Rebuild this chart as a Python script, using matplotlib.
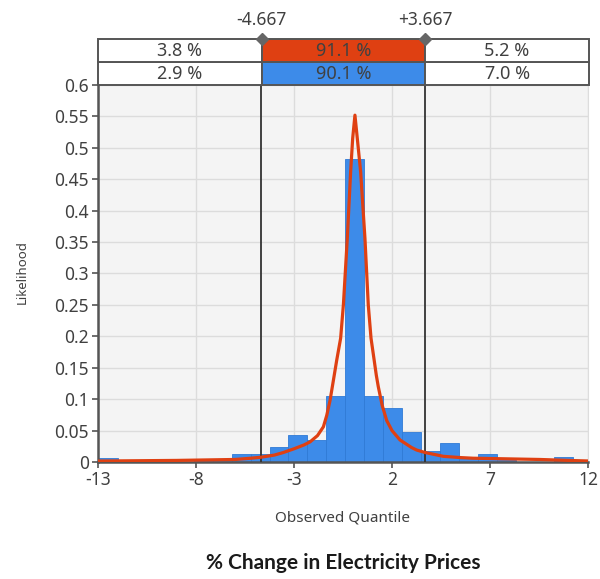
import numpy as np
import matplotlib
matplotlib.use("Agg")
import matplotlib.pyplot as plt
from matplotlib.patches import Rectangle

# histogram (bins of equal width starting at bin_start)
bin_start = -12.96
bin_width = 0.968
bar_heights = [0.007, 0, 0, 0, 0, 0.003, 0.003, 0.012, 0.012, 0.024,
               0.0425, 0.0345, 0.105, 0.483, 0.105, 0.0866, 0.047, 0.0175,
               0.030, 0.004, 0.012, 0.003, 0, 0, 0.008, 0]

# fitted curve
curve_x = [-13, -11, -9, -8, -7, -6, -5.2, -4.7, -4, -3.55, -3, -2.5, -2.18,
           -1.8, -1.5, -1.33, -1.16, -1.0, -0.82, -0.62, -0.48, -0.28, -0.11,
           -0.006, 0.11, 0.23, 0.40, 0.62, 0.79, 0.93, 1.1, 1.2, 1.30, 1.5,
           1.73, 2.0, 2.41, 3.0, 3.26, 3.7, 4.62, 5.5, 6.13, 7.0, 7.85, 9.55,
           11, 12]
curve_y = [0.0015, 0.002, 0.0025, 0.003, 0.0035, 0.004, 0.006, 0.0075, 0.011,
           0.015, 0.021, 0.027, 0.032, 0.042, 0.056, 0.074, 0.098, 0.128,
           0.162, 0.197, 0.250, 0.356, 0.462, 0.515, 0.552, 0.515, 0.462,
           0.356, 0.250, 0.197, 0.160, 0.138, 0.12, 0.09, 0.066, 0.05, 0.035,
           0.023, 0.019, 0.015, 0.009, 0.007, 0.006, 0.0055, 0.005, 0.004,
           0.0025, 0.0016]

bounds = [-4.667, 3.667]
bound_labels = ["-4.667", "+3.667"]
row_fit = ["3.8 %", "91.1 %", "5.2 %"]
row_input = ["2.9 %", "90.1 %", "7.0 %"]

x_ticks = [-13, -8, -3, 2, 7, 12]
y_ticks = [0, 0.05, 0.1, 0.15, 0.2, 0.25, 0.3, 0.35, 0.4, 0.45, 0.5, 0.55, 0.6]

RED = "#DF4012"
BLUE = "#3D8BE9"
TXT = "#404040"

plt.rcParams["font.family"] = ["Noto Sans", "DejaVu Sans"]

fig = plt.figure(figsize=(6, 5.79), dpi=100)
ax = fig.add_axes([0.1633, 0.2021, 0.8167, 0.6511])
ax.set_facecolor("#F4F4F4")

lefts = bin_start + bin_width * np.arange(len(bar_heights))
ax.bar(lefts, bar_heights, width=bin_width, align="edge", color=BLUE,
       edgecolor="#2F7AD6", linewidth=0.6, zorder=2)
ax.plot(curve_x, curve_y, color=RED, lw=2.3, solid_joinstyle="round", zorder=4)

for b in bounds:
    ax.axvline(b, color="#333333", lw=1.3, zorder=3)

ax.set_xlim(-13, 12)
ax.set_ylim(0, 0.6)
ax.set_xticks(x_ticks)
ax.set_xticklabels([str(t) for t in x_ticks])
ax.set_yticks(y_ticks)
ax.set_yticklabels(["%g" % t for t in y_ticks])
ax.grid(True, color="#DCDCDC", lw=1)
ax.set_axisbelow(True)
ax.tick_params(labelsize=12.5, colors="#555555", labelcolor=TXT, length=4,
               width=1.2, pad=2.5)
for s in ["left", "bottom"]:
    ax.spines[s].set_color("#555555")
    ax.spines[s].set_linewidth(1.8)
ax.spines["top"].set_visible(False)
ax.spines["right"].set_color("#DDDDDD")

ax.text(-0.155, 0.504, "Likelihood", transform=ax.transAxes, rotation=90,
        ha="center", va="center", fontsize=9.5, color=TXT)
ax.text(0.5, -0.149, "Observed Quantile", transform=ax.transAxes,
        ha="center", va="center", fontsize=11, color=TXT)

# header table with the band percentages
hx = fig.add_axes([0.1638, 0.8532, 0.8183, 0.0794])
hx.set_xlim(-13, 12.05)
hx.set_ylim(0, 2)
hx.axis("off")
edges = [-13, bounds[0], bounds[1], 12.05]
for row, (vals, mid_col) in enumerate([(row_input, BLUE), (row_fit, RED)]):
    for i in range(3):
        fc = mid_col if i == 1 else "white"
        hx.add_patch(Rectangle((edges[i], row), edges[i + 1] - edges[i], 1,
                               facecolor=fc, edgecolor="#555555", lw=1.4,
                               clip_on=False))
        hx.text((edges[i] + edges[i + 1]) / 2, row + 0.47, vals[i],
                ha="center", va="center", fontsize=13, color=TXT)

for b, lab in zip(bounds, bound_labels):
    hx.plot([b], [2], marker="D", ms=6, color="#666666", clip_on=False, zorder=5)
    hx.text(b, 2.45, lab, ha="center", va="bottom", fontsize=12.5, color=TXT)

fig.text(0.572, 0.027, "% Change in Electricity Prices", ha="center",
         va="center", fontsize=15, fontweight="bold", color="#1A1A1A",
         family=["Lato", "DejaVu Sans"])

fig.savefig("out.png", dpi=100)
